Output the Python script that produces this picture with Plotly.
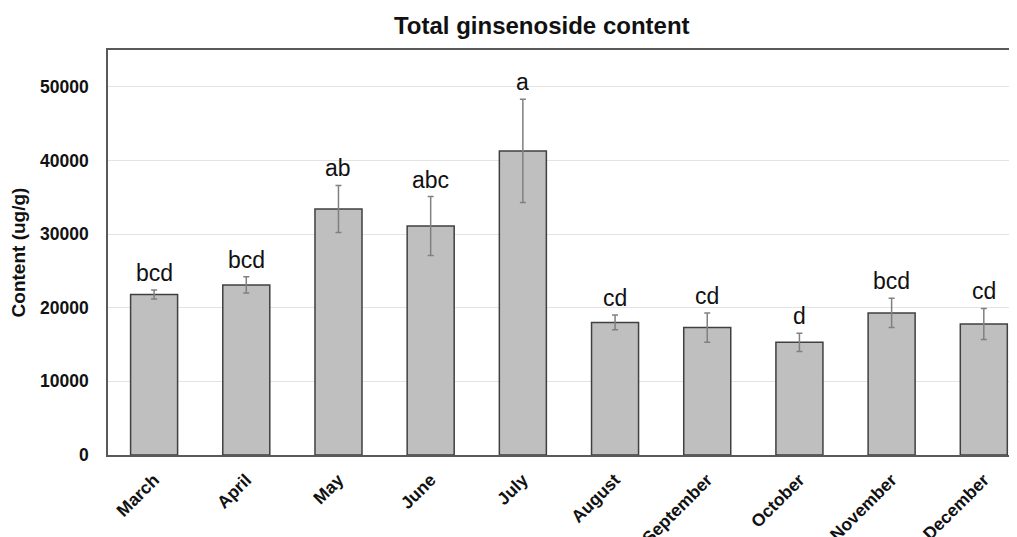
import plotly.graph_objects as go

months = ["March", "April", "May", "June", "July", "August", "September", "October", "November", "December"]
content = [21800, 23100, 33400, 31100, 41300, 18000, 17300, 15300, 19300, 17800]
errors = [600, 1100, 3200, 4000, 7000, 1000, 2000, 1250, 2000, 2100]
letters = ["bcd", "bcd", "ab", "abc", "a", "cd", "cd", "d", "bcd", "cd"]

FONT = "Liberation Sans, Arial, sans-serif"

fig = go.Figure()
fig.add_trace(go.Bar(
    x=months, y=content, width=0.51,
    marker=dict(color="#bfbfbf", line=dict(color="#404040", width=1.5)),
    error_y=dict(type="data", array=errors, color="#808080", thickness=1.5, width=3),
    showlegend=False,
))

for m, v, e, t in zip(months, content, errors, letters):
    fig.add_annotation(x=m, y=v + e, text=t, showarrow=False, yanchor="bottom",
                       yshift=2, font=dict(family=FONT, size=23, color="#111"))

fig.update_layout(
    width=1009, height=529,
    margin=dict(l=100, r=0, t=42, b=82, autoexpand=False),
    paper_bgcolor="white", plot_bgcolor="white",
    title=dict(text="Total ginsenoside content", x=0.529, xanchor="center",
               y=0.966, yanchor="middle", automargin=False,
               font=dict(family=FONT, size=24, color="#111", weight="bold")),
    xaxis=dict(
        range=[-0.5, 9.36], tickangle=-45, showline=True, mirror=True,
        linecolor="#595959", linewidth=1.5, ticks="", automargin=False,
        ticklabelstandoff=6,
        tickfont=dict(family=FONT, size=17.5, color="#111", weight="bold"),
    ),
    yaxis=dict(
        range=[0, 55000], dtick=10000, showline=True, linecolor="#595959", linewidth=1.5,
        showgrid=True, gridcolor="#e3e3e3", gridwidth=1, zeroline=False, ticks="",
        tickformat="d", automargin=False, ticklabelstandoff=14,
        tickfont=dict(family=FONT, size=17.5, color="#111", weight="bold"),
        title=dict(text="Content (ug/g)", standoff=12,
                   font=dict(family=FONT, size=19, color="#111", weight="bold")),
    ),
    bargap=0.49,
)

fig.write_html("out.html")
